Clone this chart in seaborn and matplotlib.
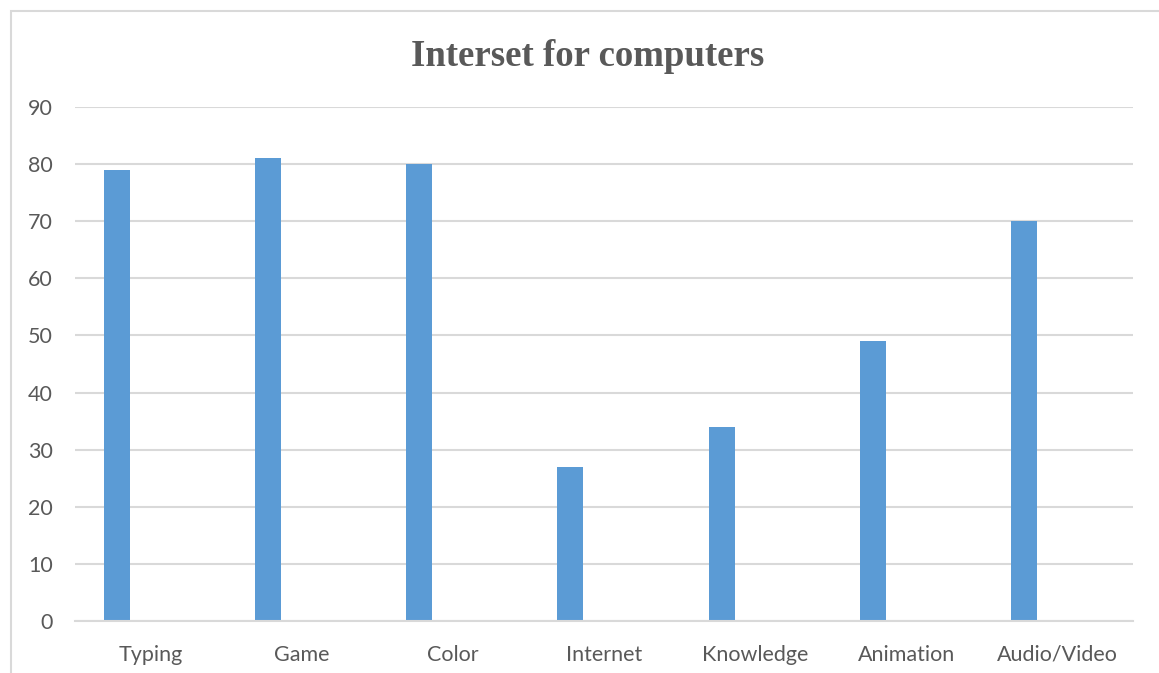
import matplotlib
matplotlib.use("Agg")
import matplotlib.pyplot as plt
from matplotlib.patches import Rectangle
import seaborn as sns
import pandas as pd

categories = ["Typing", "Game", "Color", "Internet", "Knowledge", "Animation", "Audio/Video"]
interest = [79, 81, 80, 27, 34, 49, 70]
y_ticks = [0, 10, 20, 30, 40, 50, 60, 70, 80, 90]
title = "Interset for computers"

BAR = "#5b9bd5"
GRID = "#d9d9d9"
TEXT = "#595959"

sns.set_theme(style="white")
plt.rcParams["font.family"] = ["Lato", "DejaVu Sans"]

W, H = 1159, 673
fig = plt.figure(figsize=(W / 100, H / 100), dpi=100)
ax = fig.add_axes([75 / W, (H - 621) / H, (1133 - 75) / W, (621 - 107) / H])

df = pd.DataFrame({"category": categories, "interest": interest})
sns.barplot(data=df, x="category", y="interest", order=categories,
            color=BAR, saturation=1, width=0.172, linewidth=0, ax=ax)

# bars sit left of each category slot, labels are centred on the slot
shift = 0.222
ax.set_xlim(-0.5 + shift, len(categories) - 0.5 + shift)
ax.set_xticks([i + shift for i in range(len(categories))])
ax.set_xticklabels(categories)
ax.set_ylim(0, 90)
ax.set_yticks(y_ticks)
ax.set_xlabel("")
ax.set_ylabel("")

ax.yaxis.grid(True, color=GRID, linewidth=1.5)
ax.set_axisbelow(True)
for side in ["top", "right", "left"]:
    ax.spines[side].set_visible(False)
ax.spines["bottom"].set_color(GRID)
ax.spines["bottom"].set_linewidth(1.5)
ax.tick_params(axis="both", length=0, labelsize=15.5, labelcolor=TEXT)
ax.tick_params(axis="y", pad=16)
ax.tick_params(axis="x", pad=17)

fig.text(588 / W, (H - 57) / H, title, ha="center", va="center",
         fontsize=26.5, fontweight="bold", color=TEXT, family="Liberation Serif")

# chart-area border
fig.patches.append(Rectangle((11 / W, -0.1), 1.2, (H - 11) / H + 0.1,
                             transform=fig.transFigure, fill=False,
                             edgecolor=GRID, linewidth=1.5, clip_on=False))

fig.savefig("out.png", dpi=100, facecolor="white")
